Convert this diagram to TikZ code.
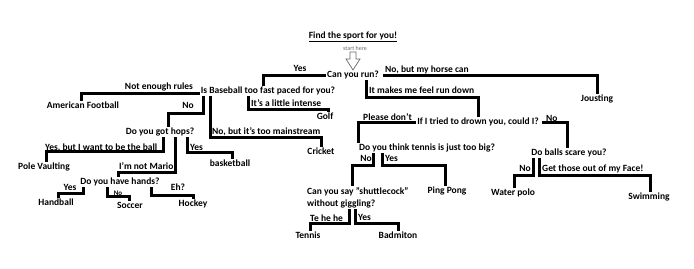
\documentclass[tikz,border=0pt]{standalone}
\usepackage{fontspec}
\setmainfont{Carlito}
\usetikzlibrary{positioning}
\definecolor{hintgray}{RGB}{105,105,105}

\begin{document}
\begin{tikzpicture}[x=1pt, y=-1pt,
        txt/.style={font=\bfseries\fontsize{9.5}{10.5}\selectfont, inner sep=1pt, text height=6.5pt, text depth=1.8pt},
        lbl/.style={txt},
        link/.style={line width=3pt, black, line cap=butt, line join=miter}
      ]
        \useasboundingbox (0,0) rectangle (694,268);
        % title and start
        \node[txt] (title) at (353,36) {\underline{Find the sport for you!}};
        \node[font=\fontsize{6}{7}\selectfont, text=hintgray, inner sep=0.5pt] (start) at (355,48) {start here};
        \draw[hintgray, fill=white, line width=0.7pt] (350,52) -- (356,52) -- (356,59) -- (360,59) -- (353,70) -- (346,59) -- (350,59) -- cycle;
        % questions
        \node[txt] (run) at (353,75) {Can you run?};
        \node[txt] (base) at (268,91) {Is Baseball too fast paced for you?};
        \node[txt] (drown) at (478,122) {If I tried to drown you, could I?};
        \node[txt] (hops) at (160,132) {Do you got hops?};
        \node[txt] (tennisq) at (427,148) {Do you think tennis is just too big?};
        \node[txt] (balls) at (569,153) {Do balls scare you?};
        \node[txt] (hands) at (120,182) {Do you have hands?};
        \node[txt, anchor=north west, align=left, text height=, text depth=, font=\bfseries\fontsize{9.5}{12}\selectfont] (shuttle) at (306,186) {Can you say "shuttlecock"\\without giggling?};
        % answers
        \node[txt] (joust) at (597,99) {Jousting};
        \node[txt] (amfoot) at (83,106) {American Football};
        \node[txt] (golf) at (325,117) {Golf};
        \node[txt] (cricket) at (321,152) {Cricket};
        \node[txt] (pole) at (44,167) {Pole Vaulting};
        \node[txt] (bball) at (230,164) {basketball};
        \node[txt] (pingpong) at (447,191) {Ping Pong};
        \node[txt] (waterpolo) at (513,193) {Water polo};
        \node[txt] (swim) at (649,197) {Swimming};
        \node[txt] (handball) at (56,203) {Handball};
        \node[txt] (soccer) at (130,206) {Soccer};
        \node[txt] (hockey) at (193,204) {Hockey};
        \node[txt] (tennis) at (308,236) {Tennis};
        \node[txt] (badmiton) at (398,236) {Badmiton};
        % branch labels
        \node[lbl] (runyes) at (300,69) {Yes};
        \node[lbl, anchor=west] (horse) at (384,70) {No, but my horse can};
        \node[lbl, anchor=west] (rundown) at (368,91) {It makes me feel run down};
        \node[lbl] (rules) at (159,87) {Not enough rules};
        \node[lbl] (baseno) at (188,106) {No};
        \node[lbl, anchor=west] (mainstream) at (211,132) {No, but it's too mainstream};
        \node[lbl, anchor=west] (intense) at (250,104) {It's a little intense};
        \node[lbl, anchor=west] (please) at (362,118) {Please don't};
        \node[lbl, anchor=west] (drownno) at (545,119) {No};
        \node[lbl] (tenno) at (366,159) {No};
        \node[lbl, anchor=west] (tenyes) at (384,159) {Yes};
        \node[lbl, anchor=west] (tehe) at (309,219) {Te he he};
        \node[lbl, anchor=west] (shyes) at (357,218) {Yes};
        \node[lbl] (ballsno) at (525,169) {No};
        \node[lbl, anchor=west] (face) at (541,169) {Get those out of my Face!};
        \node[lbl, anchor=west] (theball) at (44,148) {Yes, but I want to be the ball};
        \node[lbl, anchor=west] (mario) at (118,167) {I'm not Mario};
        \node[lbl, anchor=west] (hopsyes) at (189,148) {Yes};
        \node[lbl] (handsyes) at (70,188) {Yes};
        \node[lbl, font=\bfseries\fontsize{7}{8}\selectfont] (handsno) at (118,193) {No};
        \node[lbl] (eh) at (178,188) {Eh?};
        % connectors
        \draw[link] (run.west) -| (base.north -| 263,0);
        \draw[link] ([xshift=3pt]run.east) -| (joust.north);
        \draw[link] (run.south -| 366,0) -- (366,97) -| (drown.north);
        \draw[link] ([yshift=-2pt]base.west) -| (amfoot.north -| 81,0);
        \draw[link] (base.south -| 203,0) -- (203,113) -| (hops.north -| 168,0);
        \draw[link] (base.south -| 210,0) -- (210,137) -| (cricket.north);
        \draw[link] (base.south -| 248,0) -- (248,109) -| (golf.north -| 328,0);
        \draw[link] (drown.west) -| (tennisq.north -| 358,0);
        \draw[link] ([xshift=2pt]drown.east) -| (balls.north -| 567,0);
        \draw[link] (tennisq.south -| 373,0) -- (373,165) -| (shuttle.north -| 352,0);
        \draw[link] (tennisq.south -| 382,0) -- (382,165) -| (pingpong.north -| 445,0);
        \draw[link] (shuttle.south -| 349,0) -- (349,223) -| (tennis.north -| 310,0);
        \draw[link] (shuttle.south -| 355,0) -- (355,223) -| (badmiton.north);
        \draw[link] (balls.south -| 533,0) -- (533,175) -| (waterpolo.north -| 514,0);
        \draw[link] (balls.south -| 539,0) -- (539,175) -| (swim.north -| 650,0);
        \draw[link] (hops.south -| 163,0) -- (163,151) -| (pole.north -| 46,0);
        \draw[link] (hops.south -| 175,0) -- (175,172) -| (hands.north -| 118,0);
        \draw[link] (hops.south -| 187,0) -- (187,152) -| (bball.north -| 232,0);
        \draw[link] (hands.south -| 83,0) -- (83,193) -| (handball.north -| 58,0);
        \draw[link] (hands.south -| 107,0) -- (107,196) -| (soccer.north -| 129,0);
        \draw[link] (hands.south -| 151,0) -- (151,195) -| (hockey.north);
      \end{tikzpicture}
\end{document}
